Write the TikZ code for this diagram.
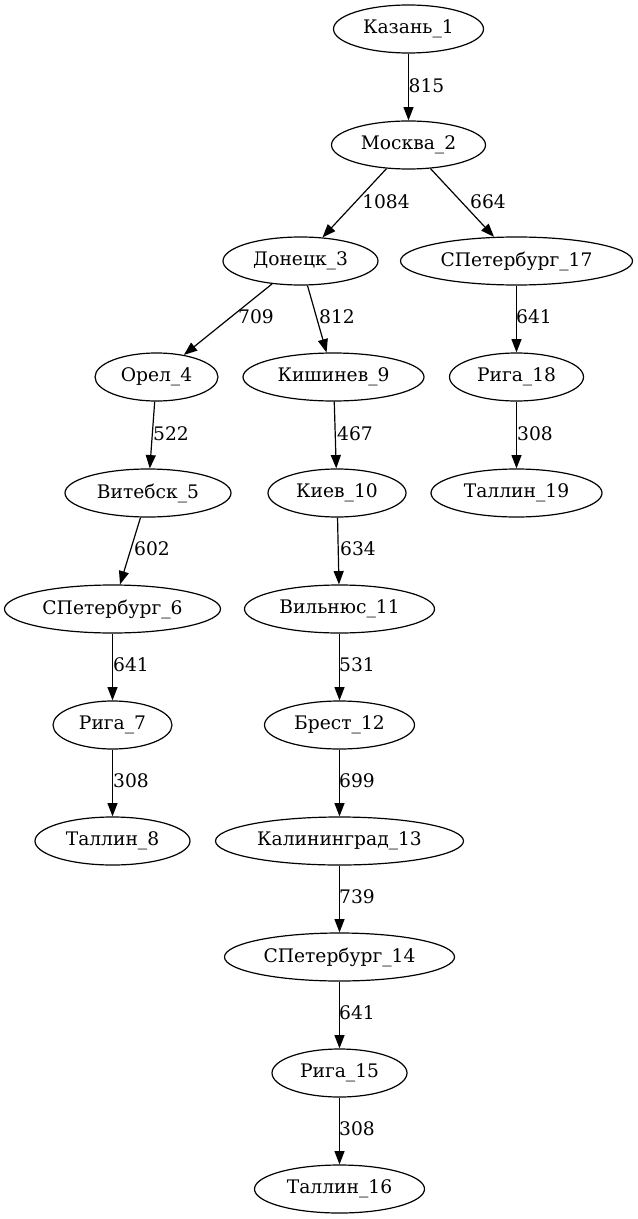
\documentclass[tikz,border=0pt]{standalone}
\usepackage{fontspec}
\setmainfont{DejaVu Serif}
\usetikzlibrary{shapes.geometric,arrows.meta}
\tikzset{
  city/.style={ellipse, draw, line width=0.9pt, inner sep=0pt, minimum height=36pt, minimum width=#1, font=\fontsize{14pt}{16pt}\selectfont},
  road/.style={draw, line width=0.9pt, -{Triangle[length=10pt,width=7.5pt]}},
  dist/.style={inner sep=0pt, font=\fontsize{14pt}{16pt}\selectfont}
}
\begin{document}
\begin{tikzpicture}[x=0.75pt,y=-0.75pt]
\useasboundingbox (0,0) rectangle (637,1219);
\node[city=112.5pt] (n1) at (408.5,29) {Казань\_1};
\node[city=115.5pt] (n2) at (408.5,145) {Москва\_2};
\node[city=116.25pt] (n3) at (300.5,261) {Донецк\_3};
\node[city=174pt] (n17) at (516.5,261) {СПетербург\_17};
\node[city=92.25pt] (n4) at (156.5,377) {Орел\_4};
\node[city=135.75pt] (n9) at (333.5,377) {Кишинев\_9};
\node[city=100.5pt] (n18) at (516.5,377) {Рига\_18};
\node[city=124.5pt] (n5) at (148,493) {Витебск\_5};
\node[city=103.5pt] (n10) at (337,493) {Киев\_10};
\node[city=128.25pt] (n19) at (516.5,493) {Таллин\_19};
\node[city=162pt] (n6) at (112.5,609) {СПетербург\_6};
\node[city=142.5pt] (n11) at (339.5,609) {Вильнюс\_11};
\node[city=89.25pt] (n7) at (112.5,725) {Рига\_7};
\node[city=112.5pt] (n12) at (339.5,725) {Брест\_12};
\node[city=116.25pt] (n8) at (112.5,841) {Таллин\_8};
\node[city=186pt] (n13) at (339.5,841) {Калининград\_13};
\node[city=172.5pt] (n14) at (339.5,957) {СПетербург\_14};
\node[city=101.25pt] (n15) at (339.5,1073) {Рига\_15};
\node[city=127.5pt] (n16) at (339.5,1189) {Таллин\_16};

\draw[road] (n1) -- (n2);
\draw[road] (n2) -- (n3);
\draw[road] (n2) -- (n17);
\draw[road] (n3) -- (n4);
\draw[road] (n3) -- (n9);
\draw[road] (n17) -- (n18);
\draw[road] (n4) -- (n5);
\draw[road] (n9) -- (n10);
\draw[road] (n18) -- (n19);
\draw[road] (n5) -- (n6);
\draw[road] (n10) -- (n11);
\draw[road] (n6) -- (n7);
\draw[road] (n11) -- (n12);
\draw[road] (n7) -- (n8);
\draw[road] (n12) -- (n13);
\draw[road] (n13) -- (n14);
\draw[road] (n14) -- (n15);
\draw[road] (n15) -- (n16);

\node[dist] (l1) at (426.5,86) {815};
\node[dist] (l2) at (386,202) {1084};
\node[dist] (l3) at (488,202) {664};
\node[dist] (l4) at (256,317) {709};
\node[dist] (l5) at (337,317) {812};
\node[dist] (l6) at (534,317) {641};
\node[dist] (l7) at (171,434) {522};
\node[dist] (l8) at (355,434) {467};
\node[dist] (l9) at (535,434) {308};
\node[dist] (l10) at (152,549) {602};
\node[dist] (l11) at (358,549) {634};
\node[dist] (l12) at (131,665) {641};
\node[dist] (l13) at (357,665) {531};
\node[dist] (l14) at (131,781) {308};
\node[dist] (l15) at (357,781) {699};
\node[dist] (l16) at (357,897) {739};
\node[dist] (l17) at (357,1013) {641};
\node[dist] (l18) at (357,1129) {308};
\end{tikzpicture}
\end{document}
